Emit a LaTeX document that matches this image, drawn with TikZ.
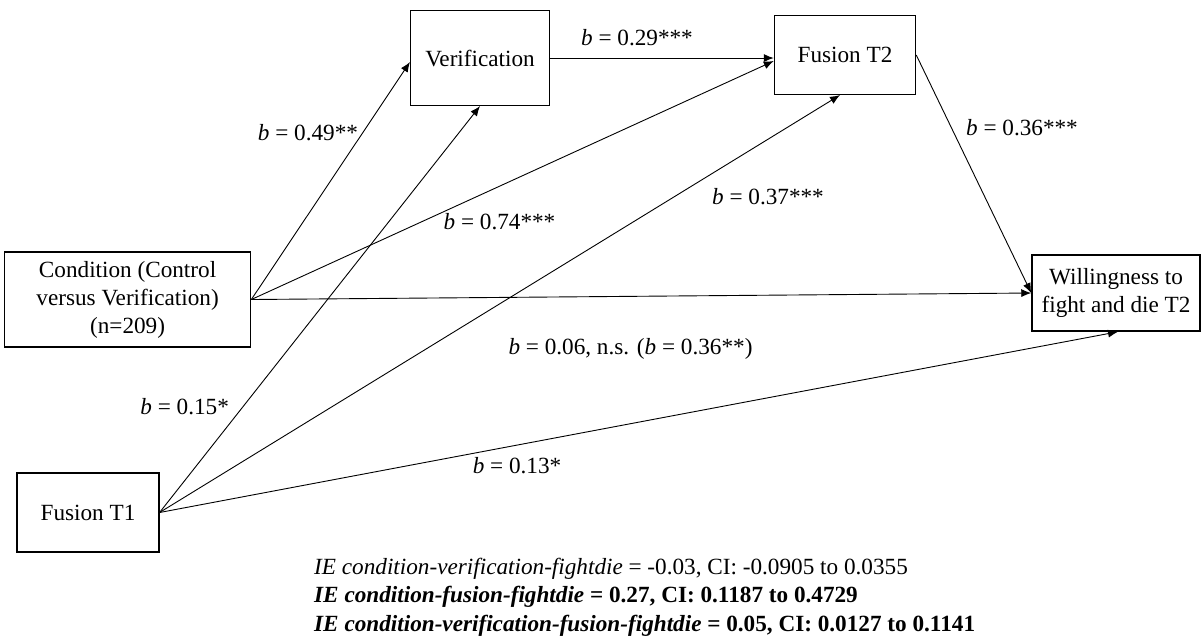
\documentclass[tikz,border=0pt]{standalone}
\usepackage{fontspec}
\setmainfont{Liberation Serif}
\usetikzlibrary{arrows.meta,calc}
\begin{document}
\begin{tikzpicture}[x=0.5pt,y=-0.5pt,
  box/.style={draw,line width=0.75pt,inner sep=0pt,align=center,font=\fontsize{11.6}{14}\selectfont},
  conn/.style={line width=0.45pt,-{Latex[length=5pt,width=4pt]}},
  lbl/.style={font=\fontsize{11.6}{14}\selectfont,inner sep=0pt}]
\useasboundingbox (0,0) rectangle (1202,639);
\node[box,minimum width=69.3pt,minimum height=47.3pt] (ver) at (480,58) {Verification};
\node[box,minimum width=70.5pt,minimum height=39.3pt] (ft2) at (845,55) {Fusion T2};
\node[box,minimum width=123pt,minimum height=47.5pt] (cond) at (127.6,299.5) {Condition (Control\\versus Verification)\\(n=209)};
\node[box,minimum width=84pt,minimum height=38pt] (will) at (1116,293) {Willingness to\\fight and die T2};
\node[box,minimum width=70.8pt,minimum height=39.5pt] (ft1) at (88,512.5) {Fusion T1};
\coordinate (verl) at ([yshift=-2pt]ver.west);
\coordinate (ft2l) at ([yshift=-3pt]ft2.west);
\coordinate (ft2b) at ([xshift=-2.5pt]ft2.south);
\coordinate (willb) at ([xshift=1pt]will.south);
\draw[conn] (cond.east) -- (verl);
\draw[conn] (cond.east) -- (ft2l);
\draw[conn] (cond.east) -- (will.west);
\draw[conn] (ver.east) -- (ft2.west |- ver.east);
\draw[conn] (ft1.east) -- (ver.south);
\draw[conn] (ft1.east) -- (ft2b);
\draw[conn] (ft1.east) -- (willb);
\draw[conn] (ft2.east) -- (will.west);
\node[lbl] (l1) at (308,133) {\textit{b} = 0.49**};
\node[lbl] (l2) at (637,38) {\textit{b} = 0.29***};
\node[lbl] (l3) at (499.5,222) {\textit{b} = 0.74***};
\node[lbl] (l4) at (768,197) {\textit{b} = 0.37***};
\node[lbl] (l5) at (1022,128) {\textit{b} = 0.36***};
\node[lbl] (l6) at (630.5,349) {\textit{b} = 0.06, n.s. (\textit{b} = 0.36**)};
\node[lbl] (l7) at (184.7,407) {\textit{b} = 0.15*};
\node[lbl] (l8) at (517,466) {\textit{b} = 0.13*};
\node[lbl,anchor=west,align=left,font=\fontsize{11.6}{14.25}\selectfont] (ie) at (313.8,597) {\textit{IE condition-verification-fightdie} = -0.03, CI: -0.0905 to 0.0355\\
\textbf{\textit{IE condition-fusion-fightdie} = 0.27, CI: 0.1187 to 0.4729}\\
\textbf{\textit{IE condition-verification-fusion-fightdie} = 0.05, CI: 0.0127 to 0.1141}};
\end{tikzpicture}
\end{document}
